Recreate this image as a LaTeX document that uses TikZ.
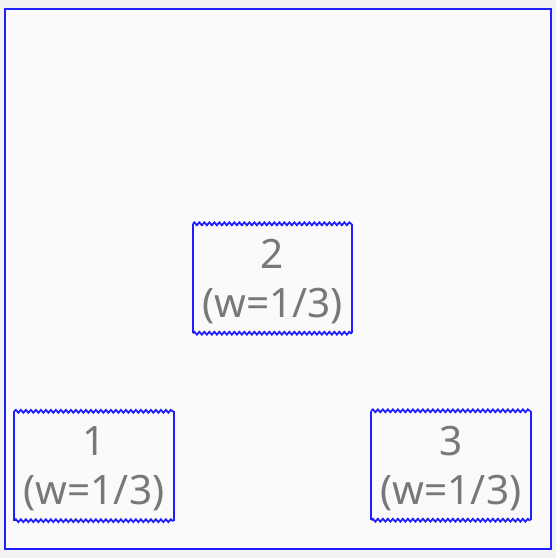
\documentclass[tikz,border=0pt]{standalone}
\usepackage{fontspec}
\setmainfont{Noto Sans}
\usetikzlibrary{decorations.pathmorphing}
\definecolor{outerbg}{RGB}{242,242,244}
\definecolor{innerbg}{RGB}{250,250,250}
\definecolor{framecol}{RGB}{30,30,255}
\definecolor{textcol}{RGB}{120,120,120}
\tikzset{
  wbox/.style={minimum width=159pt, minimum height=109pt, inner sep=0pt,
    text=textcol, align=center, font=\fontsize{40.5}{49}\selectfont},
  edge/.style={draw=framecol, line width=1.8pt},
  wavy/.style={edge, decorate, decoration={snake, amplitude=1.4pt, segment length=5pt}}
}
\begin{document}
\begin{tikzpicture}[x=1pt,y=-1pt]
\fill[outerbg] (0,0) rectangle (556,558);
\useasboundingbox (0,0) rectangle (556,558);
\node[draw=framecol, line width=1.6pt, fill=innerbg, minimum width=546pt, minimum height=540pt, inner sep=0pt] (frame) at (278,279) {};
\node[wbox] (b2) at (272.5,278.5) {};
\node[wbox] (b1) at (94,466) {};
\node[wbox] (b3) at (451,465.5) {};
\node[wbox, minimum width=0pt, minimum height=0pt] (t2) at ([yshift=-3pt]b2.center) {2\\(w=1/3)};
\node[wbox, minimum width=0pt, minimum height=0pt] (t1) at ([yshift=-3pt]b1.center) {1\\(w=1/3)};
\node[wbox, minimum width=0pt, minimum height=0pt] (t3) at ([yshift=-3pt]b3.center) {3\\(w=1/3)};
\foreach \b in {b1,b2,b3}{
  \draw[edge] (\b.north west) -- (\b.south west);
  \draw[edge] (\b.north east) -- (\b.south east);
  \draw[wavy] (\b.north west) -- (\b.north east);
  \draw[wavy] (\b.south west) -- (\b.south east);
}
\end{tikzpicture}
\end{document}
